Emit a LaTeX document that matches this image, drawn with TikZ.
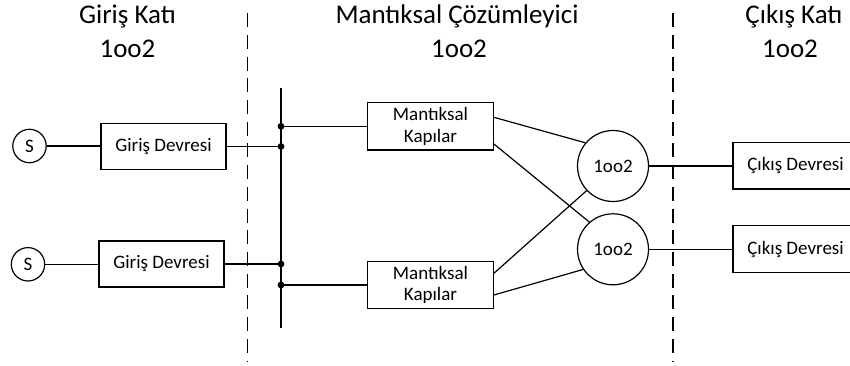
\documentclass[tikz,border=0pt]{standalone}
\usepackage{fontspec}
\setmainfont{Carlito}
\begin{document}
\begin{tikzpicture}[x=1pt,y=-1pt,line width=1.2pt,
  title/.style={font=\fontsize{27}{34}\selectfont, anchor=base, inner sep=0pt},
  blk/.style={draw, line width=1.2pt, minimum width=125pt, minimum height=46.6pt, inner sep=0pt, align=center, font=\fontsize{19}{21.5}\selectfont},
  src/.style={draw, circle, line width=1.2pt, minimum size=33.4pt, inner sep=0pt, font=\fontsize{19}{21}\selectfont},
  vote/.style={draw, circle, line width=1.2pt, minimum size=71pt, inner sep=0pt, font=\fontsize{19}{21}\selectfont},
  sep/.style={line width=1.3pt, dash pattern=on 14pt off 7.7pt},
  dot/.style={circle, fill, inner sep=0pt, minimum size=6.8pt}]
\useasboundingbox (0,0) rectangle (850,366);
\clip (0,0) rectangle (850,366);

% titles
\node[title] (t1a) at (127.5,23.3) {Giriş Katı};
\node[title] (t1b) at (127.5,57.3) {1oo2};
\node[title] (t2a) at (457,23.3) {Mantıksal Çözümleyici};
\node[title] (t2b) at (459,57.3) {1oo2};
\node[title] (t3a) at (794,23.3) {Çıkış Katı};
\node[title] (t3b) at (790,57.3) {1oo2};

% separators
\coordinate (s1t) at (247.3,13.3);
\coordinate (s1b) at (247.3,362);
\coordinate (s2t) at (673,13.3);
\coordinate (s2b) at (673,362);
\draw[sep] (s1t) -- (s1b);
\draw[sep] (s2t) -- (s2b);

% sources and input circuits
\node[src] (S1) at (29.5,146) {S};
\node[src] (S2) at (28,264.3) {S};
\node[blk, minimum height=46.7pt] (g1) at (163.5,146.5) {Giriş Devresi};
\node[blk, minimum height=46pt] (g2) at (161.5,264) {Giriş Devresi};
\draw (S1) -- (S1 -| g1.west);
\draw (S2) -- (S2 -| g2.west);

% bus
\coordinate (bt) at (281,88.3);
\coordinate (bb) at (281,328.3);
\draw (bt) -- (bb);
\coordinate (d1) at (281,126.3);
\coordinate (d2) at (281,146.5);
\coordinate (d3) at (281,264);
\coordinate (d4) at (281,285);
\draw (g1.east) -- (d2);
\draw (g2.east) -- (d3);
\foreach \d in {d1,d2,d3,d4} \node[dot] at (\d) {};

% logic gates
\node[blk, minimum width=125.6pt, minimum height=47.3pt] (m1) at (430.5,126.3) {Mantıksal\\Kapılar};
\node[blk, minimum width=125.6pt, minimum height=46.6pt] (m2) at (430.5,285) {Mantıksal\\Kapılar};
\draw (d1) -- (m1.west);
\draw (d4) -- (m2.west);

% voters
\node[vote] (c1) at (613,166) {1oo2};
\node[vote] (c2) at (613,249.3) {1oo2};
\draw ([yshift=9pt]m1.east) -- (c1.140);
\draw ([yshift=-17.7pt]m1.east) -- (c2.131);
\draw ([yshift=11.7pt]m2.east) -- (c1.223);
\draw ([yshift=-10pt]m2.east) -- (c2.214);

% output circuits
\node[blk, minimum height=46.7pt] (o1) at (795.5,165.7) {Çıkış Devresi};
\node[blk, minimum height=46.6pt] (o2) at (795.5,249) {Çıkış Devresi};
\draw (c1.east) -- (c1.east -| o1.west);
\draw (c2.east) -- (c2.east -| o2.west);
\end{tikzpicture}
\end{document}
